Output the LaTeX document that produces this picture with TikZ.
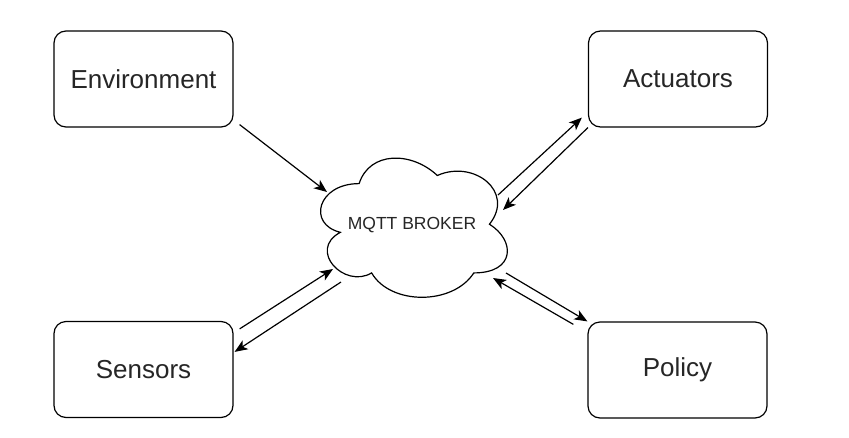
\documentclass[tikz,border=0pt]{standalone}
\usepackage{fontspec}
\setmainfont{Liberation Sans}
\usetikzlibrary{arrows.meta}
\begin{document}
\begin{tikzpicture}[x=1pt,y=-1pt,
  box/.style={draw, line width=1.2pt, rounded corners=12pt, minimum width=179pt, minimum height=96pt, inner sep=0pt, font=\fontsize{26}{30}\selectfont, text=black!85},
  arr/.style={line width=1.2pt, -{Stealth[length=13pt,width=10.5pt,inset=3.5pt]}},
  cloudline/.style={draw, line width=1.2pt, fill=white}
]
\useasboundingbox[fill=white] (0,0) rectangle (849,437);
% boxes
\node[box] (env) at (143.5,79) {Environment};
\node[box] (act) at (678,79) {Actuators};
\node[box] (sen) at (143.5,369.5) {Sensors};
\node[box] (pol) at (677.5,370) {Policy};
% cloud
\begin{scope}[xshift=307pt, yshift=-143pt, x=208.5pt, y=-162.4pt]
\path[cloudline] (0.25,0.25) .. controls (0.05,0.25) and (0,0.5) .. (0.16,0.55)
  .. controls (0,0.66) and (0.18,0.9) .. (0.31,0.8)
  .. controls (0.4,1) and (0.7,1) .. (0.8,0.8)
  .. controls (1,0.8) and (1,0.6) .. (0.875,0.5)
  .. controls (1,0.3) and (0.8,0.1) .. (0.625,0.2)
  .. controls (0.5,0.05) and (0.3,0.05) .. (0.25,0.25) -- cycle;
\end{scope}
\node[font=\fontsize{17.5}{20}\selectfont, text=black!85] (broker) at (412,225) {MQTT BROKER};
% cloud connection points
\coordinate (c1) at (327,192);
\coordinate (c2) at (498,195);
\coordinate (c3) at (503,210);
\coordinate (c4) at (333,269);
\coordinate (c5) at (341,282);
\coordinate (c6) at (506,273);
\coordinate (c7) at (493,278);
% connectors
\draw[arr] ([shift={(6,-3)}]env.south east) -- (c1);
\draw[arr] (c2) -- ([shift={(-6,-10)}]act.south west);
\draw[arr] (act.south west) -- (c3);
\draw[arr] ([shift={(6,8)}]sen.north east) -- (c4);
\draw[arr] (c5) -- ([shift={(1,31)}]sen.north east);
\draw[arr] (c6) -- (pol.north west);
\draw[arr] ([shift={(-14,3)}]pol.north west) -- (c7);
\end{tikzpicture}
\end{document}
